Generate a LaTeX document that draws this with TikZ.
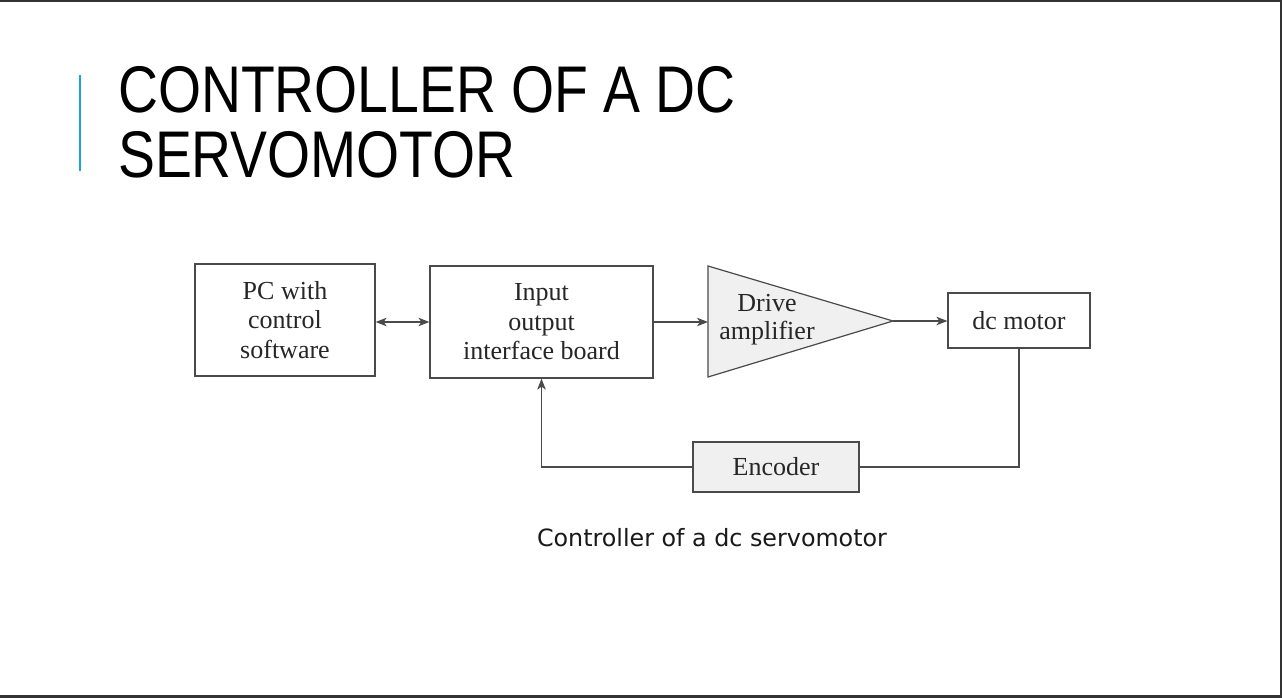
\documentclass[tikz,border=0pt]{standalone}
\usepackage{fontspec}
\setmainfont{Liberation Serif}
\newfontfamily\titlefont[FakeStretch=0.838]{Liberation Sans}
\newfontfamily\capfont{DejaVu Sans}
\usetikzlibrary{arrows.meta,calc}
\definecolor{framegray}{HTML}{333333}
\definecolor{accentblue}{HTML}{1BA1E2}
\definecolor{boxfill}{HTML}{F0F0F0}
\definecolor{linegray}{HTML}{4A4A4A}
\definecolor{txt}{HTML}{262626}
\tikzset{
  blockbox/.style={draw=linegray, line width=1.2pt, inner sep=0pt, align=center,
    text=txt, font=\fontsize{26}{29.5}\selectfont},
  conn/.style={draw=linegray, line width=1.2pt},
  tipshape/.style={},
  arr/.style={conn, -{Stealth[length=11pt,width=8.5pt,inset=3pt]}},
  darr/.style={conn, {Stealth[length=11pt,width=8.5pt,inset=3pt]}-{Stealth[length=11pt,width=8.5pt,inset=3pt]}},
  titletext/.style={anchor=base west, inner sep=0pt, text=black,
    font=\titlefont\fontsize{66}{66}\selectfont},
}
\begin{document}
\begin{tikzpicture}[x=1pt,y=-1pt]
\useasboundingbox (0,0) rectangle (1282,698);
\fill[white] (0,0) rectangle (1282,698);
% frame
\fill[framegray] (0,0) rectangle (1282,2.5);
\fill[framegray] (1279.5,0) rectangle (1282,698);
\fill[framegray] (0,695) rectangle (1282,698);
% accent bar
\fill[accentblue] (79,75) rectangle (81,171);
% title
\node[titletext] (t1) at (118,113) {CONTROLLER OF A DC};
\node[titletext] (t2) at (118,177) {SERVOMOTOR};
% blocks
\node[blockbox, minimum width=180pt, minimum height=112pt] (pc) at (285,320) {PC with\\control\\software};
\node[blockbox, minimum width=223pt, minimum height=112pt] (io) at (541.5,322) {Input\\output\\interface board};
\node[blockbox, minimum width=142pt, minimum height=55pt] (motor) at (1019,320.5) {dc motor};
\node[blockbox, fill=boxfill, minimum width=166pt, minimum height=50pt] (enc) at (776,467) {Encoder};
% amplifier
\coordinate (ampin) at (708,322);
\coordinate (amptop) at (708,266);
\coordinate (ampbot) at (708,377);
\coordinate (ampout) at (893,321);
\draw[conn, fill=boxfill, line join=miter] (amptop) -- (ampout) -- (ampbot) -- cycle;
\node[align=center, inner sep=0pt, text=txt, font=\fontsize{26}{28}\selectfont] (amp) at (767,320) {Drive\\amplifier};
% connectors
\draw[darr] (io.west -| pc.east) -- (io.west);
\draw[arr] (io.east) -- (ampin);
\draw[arr] (ampout) -- (ampout -| motor.west);
\draw[conn] (motor.south) |- (enc.east);
\draw[arr] (enc.west) -| (io.south);
% caption
\node[anchor=base, inner sep=0pt, text=black!90, font=\capfont\fontsize{23.8}{28}\selectfont] (cap) at (712,546) {Controller of a dc servomotor};
\end{tikzpicture}
\end{document}
